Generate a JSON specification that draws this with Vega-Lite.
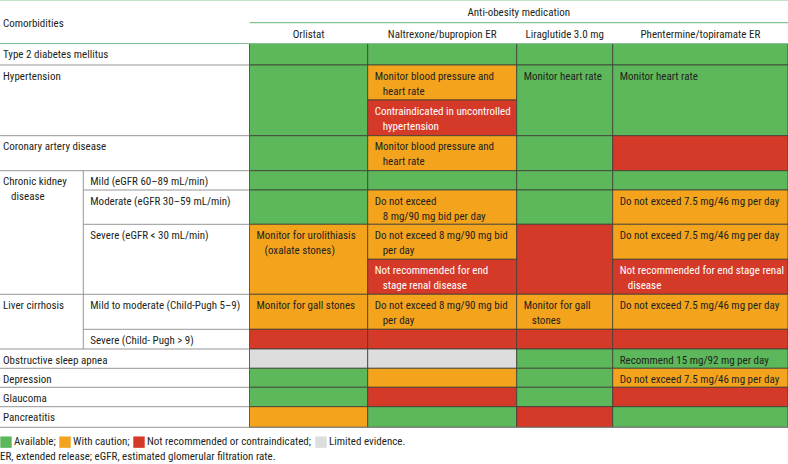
{
  "$schema": "https://vega.github.io/schema/vega-lite/v6.json",
  "width": 788,
  "height": 464,
  "autosize": {"type": "none"},
  "padding": 0,
  "background": "white",
  "datasets": {
    "cols": [
      {"col": "Comorbidity", "x0": 0, "x1": 83.3, "xm": 41.7},
      {"col": "Subgroup", "x0": 83.3, "x1": 249.5, "xm": 166.4},
      {"col": "Orlistat", "x0": 249.5, "x1": 367.7, "xm": 308.6},
      {"col": "Naltrexone/bupropion ER", "x0": 367.7, "x1": 516.7, "xm": 442.2},
      {"col": "Liraglutide 3.0 mg", "x0": 516.7, "x1": 612.7, "xm": 564.7},
      {"col": "Phentermine/topiramate ER", "x0": 612.7, "x1": 788, "xm": 700.4},
      {"col": "Anti-obesity medication", "x0": 249.5, "x1": 788, "xm": 518.75}
    ],
    "bands": [
      {"band": "hdr1", "y0": 0, "y1": 22.7},
      {"band": "hdr2", "y0": 22.7, "y1": 43.5},
      {"band": "b1", "y0": 43.5, "y1": 65},
      {"band": "b2", "y0": 65, "y1": 100},
      {"band": "b3", "y0": 100, "y1": 135.7},
      {"band": "b4", "y0": 135.7, "y1": 170.7},
      {"band": "b5", "y0": 170.7, "y1": 190},
      {"band": "b6", "y0": 190, "y1": 224.3},
      {"band": "b7", "y0": 224.3, "y1": 259.3},
      {"band": "b8", "y0": 259.3, "y1": 294.3},
      {"band": "b9", "y0": 294.3, "y1": 329.3},
      {"band": "b10", "y0": 329.3, "y1": 349},
      {"band": "b11", "y0": 349, "y1": 368.3},
      {"band": "b12", "y0": 368.3, "y1": 387.3},
      {"band": "b13", "y0": 387.3, "y1": 406.7},
      {"band": "b14", "y0": 406.7, "y1": 427.3},
      {"band": "foot", "y0": 427.3, "y1": 447},
      {"band": "note", "y0": 447, "y1": 464}
    ],
    "cells": [
      {"drug": "Orlistat", "b0": "b1", "b1": "b1", "status": "Available", "line1": "", "line2": ""},
      {"drug": "Naltrexone/bupropion ER", "b0": "b1", "b1": "b1", "status": "Available", "line1": "", "line2": ""},
      {"drug": "Liraglutide 3.0 mg", "b0": "b1", "b1": "b1", "status": "Available", "line1": "", "line2": ""},
      {"drug": "Phentermine/topiramate ER", "b0": "b1", "b1": "b1", "status": "Available", "line1": "", "line2": ""},

      {"drug": "Orlistat", "b0": "b2", "b1": "b3", "status": "Available", "line1": "", "line2": ""},
      {"drug": "Naltrexone/bupropion ER", "b0": "b2", "b1": "b2", "status": "With caution", "line1": "Monitor blood pressure and", "line2": "heart rate"},
      {"drug": "Naltrexone/bupropion ER", "b0": "b3", "b1": "b3", "status": "Not recommended", "line1": "Contraindicated in uncontrolled", "line2": "hypertension"},
      {"drug": "Liraglutide 3.0 mg", "b0": "b2", "b1": "b3", "status": "Available", "line1": "Monitor heart rate", "line2": ""},
      {"drug": "Phentermine/topiramate ER", "b0": "b2", "b1": "b3", "status": "Available", "line1": "Monitor heart rate", "line2": ""},

      {"drug": "Orlistat", "b0": "b4", "b1": "b4", "status": "Available", "line1": "", "line2": ""},
      {"drug": "Naltrexone/bupropion ER", "b0": "b4", "b1": "b4", "status": "With caution", "line1": "Monitor blood pressure and", "line2": "heart rate"},
      {"drug": "Liraglutide 3.0 mg", "b0": "b4", "b1": "b4", "status": "Available", "line1": "", "line2": ""},
      {"drug": "Phentermine/topiramate ER", "b0": "b4", "b1": "b4", "status": "Not recommended", "line1": "", "line2": ""},

      {"drug": "Orlistat", "b0": "b5", "b1": "b5", "status": "Available", "line1": "", "line2": ""},
      {"drug": "Naltrexone/bupropion ER", "b0": "b5", "b1": "b5", "status": "Available", "line1": "", "line2": ""},
      {"drug": "Liraglutide 3.0 mg", "b0": "b5", "b1": "b5", "status": "Available", "line1": "", "line2": ""},
      {"drug": "Phentermine/topiramate ER", "b0": "b5", "b1": "b5", "status": "Available", "line1": "", "line2": ""},

      {"drug": "Orlistat", "b0": "b6", "b1": "b6", "status": "Available", "line1": "", "line2": ""},
      {"drug": "Naltrexone/bupropion ER", "b0": "b6", "b1": "b6", "status": "With caution", "line1": "Do not exceed", "line2": "8 mg/90 mg bid per day"},
      {"drug": "Liraglutide 3.0 mg", "b0": "b6", "b1": "b6", "status": "Available", "line1": "", "line2": ""},
      {"drug": "Phentermine/topiramate ER", "b0": "b6", "b1": "b6", "status": "With caution", "line1": "Do not exceed 7.5 mg/46 mg per day", "line2": ""},

      {"drug": "Orlistat", "b0": "b7", "b1": "b8", "status": "With caution", "line1": "Monitor for urolithiasis", "line2": "(oxalate stones)"},
      {"drug": "Naltrexone/bupropion ER", "b0": "b7", "b1": "b7", "status": "With caution", "line1": "Do not exceed 8 mg/90 mg bid", "line2": "per day"},
      {"drug": "Naltrexone/bupropion ER", "b0": "b8", "b1": "b8", "status": "Not recommended", "line1": "Not recommended for end", "line2": "stage renal disease"},
      {"drug": "Liraglutide 3.0 mg", "b0": "b7", "b1": "b8", "status": "Not recommended", "line1": "", "line2": ""},
      {"drug": "Phentermine/topiramate ER", "b0": "b7", "b1": "b7", "status": "With caution", "line1": "Do not exceed 7.5 mg/46 mg per day", "line2": ""},
      {"drug": "Phentermine/topiramate ER", "b0": "b8", "b1": "b8", "status": "Not recommended", "line1": "Not recommended for end stage renal", "line2": "disease"},

      {"drug": "Orlistat", "b0": "b9", "b1": "b9", "status": "With caution", "line1": "Monitor for gall stones", "line2": ""},
      {"drug": "Naltrexone/bupropion ER", "b0": "b9", "b1": "b9", "status": "With caution", "line1": "Do not exceed 8 mg/90 mg bid", "line2": "per day"},
      {"drug": "Liraglutide 3.0 mg", "b0": "b9", "b1": "b9", "status": "With caution", "line1": "Monitor for gall", "line2": "stones"},
      {"drug": "Phentermine/topiramate ER", "b0": "b9", "b1": "b9", "status": "With caution", "line1": "Do not exceed 7.5 mg/46 mg per day", "line2": ""},

      {"drug": "Orlistat", "b0": "b10", "b1": "b10", "status": "Not recommended", "line1": "", "line2": ""},
      {"drug": "Naltrexone/bupropion ER", "b0": "b10", "b1": "b10", "status": "Not recommended", "line1": "", "line2": ""},
      {"drug": "Liraglutide 3.0 mg", "b0": "b10", "b1": "b10", "status": "Not recommended", "line1": "", "line2": ""},
      {"drug": "Phentermine/topiramate ER", "b0": "b10", "b1": "b10", "status": "Not recommended", "line1": "", "line2": ""},

      {"drug": "Orlistat", "b0": "b11", "b1": "b11", "status": "Limited evidence", "line1": "", "line2": ""},
      {"drug": "Naltrexone/bupropion ER", "b0": "b11", "b1": "b11", "status": "Limited evidence", "line1": "", "line2": ""},
      {"drug": "Liraglutide 3.0 mg", "b0": "b11", "b1": "b11", "status": "Available", "line1": "", "line2": ""},
      {"drug": "Phentermine/topiramate ER", "b0": "b11", "b1": "b11", "status": "Available", "line1": "Recommend 15 mg/92 mg per day", "line2": ""},

      {"drug": "Orlistat", "b0": "b12", "b1": "b12", "status": "Available", "line1": "", "line2": ""},
      {"drug": "Naltrexone/bupropion ER", "b0": "b12", "b1": "b12", "status": "With caution", "line1": "", "line2": ""},
      {"drug": "Liraglutide 3.0 mg", "b0": "b12", "b1": "b12", "status": "Available", "line1": "", "line2": ""},
      {"drug": "Phentermine/topiramate ER", "b0": "b12", "b1": "b12", "status": "With caution", "line1": "Do not exceed 7.5 mg/46 mg per day", "line2": ""},

      {"drug": "Orlistat", "b0": "b13", "b1": "b13", "status": "Available", "line1": "", "line2": ""},
      {"drug": "Naltrexone/bupropion ER", "b0": "b13", "b1": "b13", "status": "Not recommended", "line1": "", "line2": ""},
      {"drug": "Liraglutide 3.0 mg", "b0": "b13", "b1": "b13", "status": "Available", "line1": "", "line2": ""},
      {"drug": "Phentermine/topiramate ER", "b0": "b13", "b1": "b13", "status": "Not recommended", "line1": "", "line2": ""},

      {"drug": "Orlistat", "b0": "b14", "b1": "b14", "status": "With caution", "line1": "", "line2": ""},
      {"drug": "Naltrexone/bupropion ER", "b0": "b14", "b1": "b14", "status": "Available", "line1": "", "line2": ""},
      {"drug": "Liraglutide 3.0 mg", "b0": "b14", "b1": "b14", "status": "Not recommended", "line1": "", "line2": ""},
      {"drug": "Phentermine/topiramate ER", "b0": "b14", "b1": "b14", "status": "Available", "line1": "", "line2": ""}
    ],
    "mainLabels": [
      {"line1": "Type 2 diabetes mellitus", "line2": "", "col": "Comorbidity", "band": "b1"},
      {"line1": "Hypertension", "line2": "", "col": "Comorbidity", "band": "b2"},
      {"line1": "Coronary artery disease", "line2": "", "col": "Comorbidity", "band": "b4"},
      {"line1": "Chronic kidney", "line2": "disease", "col": "Comorbidity", "band": "b5"},
      {"line1": "Liver cirrhosis", "line2": "", "col": "Comorbidity", "band": "b9"},
      {"line1": "Obstructive sleep apnea", "line2": "", "col": "Comorbidity", "band": "b11"},
      {"line1": "Depression", "line2": "", "col": "Comorbidity", "band": "b12"},
      {"line1": "Glaucoma", "line2": "", "col": "Comorbidity", "band": "b13"},
      {"line1": "Pancreatitis", "line2": "", "col": "Comorbidity", "band": "b14"}
    ],
    "subLabels": [
      {"text": "Mild (eGFR 60–89 mL/min)", "col": "Subgroup", "band": "b5"},
      {"text": "Moderate (eGFR 30–59 mL/min)", "col": "Subgroup", "band": "b6"},
      {"text": "Severe (eGFR < 30 mL/min)", "col": "Subgroup", "band": "b7"},
      {"text": "Mild to moderate (Child-Pugh 5–9)", "col": "Subgroup", "band": "b9"},
      {"text": "Severe (Child- Pugh > 9)", "col": "Subgroup", "band": "b10"}
    ],
    "headers": [
      {"text": "Anti-obesity medication", "col": "Anti-obesity medication", "band": "hdr1"},
      {"text": "Orlistat", "col": "Orlistat", "band": "hdr2"},
      {"text": "Naltrexone/bupropion ER", "col": "Naltrexone/bupropion ER", "band": "hdr2"},
      {"text": "Liraglutide 3.0 mg", "col": "Liraglutide 3.0 mg", "band": "hdr2"},
      {"text": "Phentermine/topiramate ER", "col": "Phentermine/topiramate ER", "band": "hdr2"}
    ],
    "cornerHeader": [
      {"text": "Comorbidities", "col": "Comorbidity", "band": "hdr2"}
    ],
    "notes": [
      {"text": "ER, extended release; eGFR, estimated glomerular filtration rate.", "col": "Comorbidity", "band": "note"}
    ],
    "greyH": [
      {"from": "Comorbidity", "to": "Subgroup", "band": "b2"},
      {"from": "Comorbidity", "to": "Subgroup", "band": "b4"},
      {"from": "Comorbidity", "to": "Subgroup", "band": "b5"},
      {"from": "Subgroup", "to": "Subgroup", "band": "b6"},
      {"from": "Subgroup", "to": "Subgroup", "band": "b7"},
      {"from": "Comorbidity", "to": "Subgroup", "band": "b9"},
      {"from": "Subgroup", "to": "Subgroup", "band": "b10"},
      {"from": "Comorbidity", "to": "Subgroup", "band": "b11"},
      {"from": "Comorbidity", "to": "Subgroup", "band": "b12"},
      {"from": "Comorbidity", "to": "Subgroup", "band": "b13"},
      {"from": "Comorbidity", "to": "Subgroup", "band": "b14"},
      {"from": "Comorbidity", "to": "Phentermine/topiramate ER", "band": "foot"}
    ],
    "greyV": [
      {"col": "Subgroup", "b0": "b5", "b1": "b10"}
    ],
    "greenH": [
      {"from": "Comorbidity", "to": "Phentermine/topiramate ER", "band": "hdr1"},
      {"from": "Orlistat", "to": "Phentermine/topiramate ER", "band": "hdr2"},
      {"from": "Comorbidity", "to": "Phentermine/topiramate ER", "band": "b1"}
    ]
  },
  "layer": [
    {
      "data": {"name": "cells"},
      "transform": [
        {"lookup": "drug", "from": {"data": {"name": "cols"}, "key": "col", "fields": ["x0", "x1"]}},
        {"lookup": "b0", "from": {"data": {"name": "bands"}, "key": "band", "fields": ["y0"]}, "as": ["top"]},
        {"lookup": "b1", "from": {"data": {"name": "bands"}, "key": "band", "fields": ["y1"]}, "as": ["bottom"]}
      ],
      "mark": {"type": "rect", "stroke": "#3d3d35", "strokeWidth": 0.8},
      "encoding": {
        "x": {"field": "x0", "type": "quantitative", "scale": {"domain": [0, 788], "nice": false, "zero": false}, "axis": null},
        "x2": {"field": "x1"},
        "y": {"field": "top", "type": "quantitative", "scale": {"domain": [0, 464], "nice": false, "zero": false, "reverse": true}, "axis": null},
        "y2": {"field": "bottom"},
        "color": {
          "field": "status",
          "type": "nominal",
          "scale": {
            "domain": ["Available", "With caution", "Not recommended", "Limited evidence"],
            "range": ["#5cb85a", "#f4a41c", "#d53a29", "#dddddd"]
          },
          "legend": {
            "title": null,
            "orient": "none",
            "legendX": 0,
            "legendY": 436,
            "direction": "horizontal",
            "symbolType": "square",
            "symbolSize": 130,
            "symbolStrokeWidth": 0,
            "symbolOpacity": 1,
            "labelFont": "Roboto Condensed, Lato, sans-serif",
            "labelFontSize": 11,
            "labelColor": "#231f20",
            "labelOffset": 2,
            "columnPadding": 3,
            "padding": 0,
            "labelLimit": 400,
            "labelExpr": "datum.label == 'Not recommended' ? 'Not recommended or contraindicated;' : datum.label == 'Limited evidence' ? 'Limited evidence.' : datum.label + ';'"
          }
        }
      }
    },
    {
      "data": {"name": "greyH"},
      "transform": [
        {"lookup": "from", "from": {"data": {"name": "cols"}, "key": "col", "fields": ["x0"]}, "as": ["xa"]},
        {"lookup": "to", "from": {"data": {"name": "cols"}, "key": "col", "fields": ["x1"]}, "as": ["xb"]},
        {"lookup": "band", "from": {"data": {"name": "bands"}, "key": "band", "fields": ["y0"]}, "as": ["ya"]}
      ],
      "mark": {"type": "rule", "stroke": "#8a8a8a", "strokeWidth": 0.9},
      "encoding": {
        "x": {"field": "xa", "type": "quantitative", "scale": {"domain": [0, 788], "nice": false, "zero": false}, "axis": null},
        "x2": {"field": "xb"},
        "y": {"field": "ya", "type": "quantitative", "scale": {"domain": [0, 464], "nice": false, "zero": false, "reverse": true}, "axis": null}
      }
    },
    {
      "data": {"name": "greyV"},
      "transform": [
        {"lookup": "col", "from": {"data": {"name": "cols"}, "key": "col", "fields": ["x0"]}, "as": ["xa"]},
        {"lookup": "b0", "from": {"data": {"name": "bands"}, "key": "band", "fields": ["y0"]}, "as": ["ya"]},
        {"lookup": "b1", "from": {"data": {"name": "bands"}, "key": "band", "fields": ["y1"]}, "as": ["yb"]}
      ],
      "mark": {"type": "rule", "stroke": "#8a8a8a", "strokeWidth": 0.9},
      "encoding": {
        "x": {"field": "xa", "type": "quantitative", "scale": {"domain": [0, 788], "nice": false, "zero": false}, "axis": null},
        "y": {"field": "ya", "type": "quantitative", "scale": {"domain": [0, 464], "nice": false, "zero": false, "reverse": true}, "axis": null},
        "y2": {"field": "yb"}
      }
    },
    {
      "data": {"name": "greenH"},
      "transform": [
        {"lookup": "from", "from": {"data": {"name": "cols"}, "key": "col", "fields": ["x0"]}, "as": ["xa"]},
        {"lookup": "to", "from": {"data": {"name": "cols"}, "key": "col", "fields": ["x1"]}, "as": ["xb"]},
        {"lookup": "band", "from": {"data": {"name": "bands"}, "key": "band", "fields": ["y0"]}, "as": ["ya"]}
      ],
      "mark": {"type": "rule", "stroke": "#84c494", "strokeWidth": 1.2},
      "encoding": {
        "x": {"field": "xa", "type": "quantitative", "scale": {"domain": [0, 788], "nice": false, "zero": false}, "axis": null},
        "x2": {"field": "xb"},
        "y": {"field": "ya", "type": "quantitative", "scale": {"domain": [0, 464], "nice": false, "zero": false, "reverse": true}, "axis": null}
      }
    },
    {
      "data": {"name": "cells"},
      "transform": [
        {"filter": "datum.line1 != ''"},
        {"lookup": "drug", "from": {"data": {"name": "cols"}, "key": "col", "fields": ["x0"]}},
        {"lookup": "b0", "from": {"data": {"name": "bands"}, "key": "band", "fields": ["y0"]}, "as": ["top"]}
      ],
      "mark": {"type": "text", "align": "left", "baseline": "alphabetic", "dx": 7, "dy": 14.5, "fontSize": 11},
      "encoding": {
        "x": {"field": "x0", "type": "quantitative", "scale": {"domain": [0, 788], "nice": false, "zero": false}, "axis": null},
        "y": {"field": "top", "type": "quantitative", "scale": {"domain": [0, 464], "nice": false, "zero": false, "reverse": true}, "axis": null},
        "text": {"field": "line1"},
        "color": {"condition": {"test": "datum.status == 'Not recommended'", "value": "#ffffff"}, "value": "#231f20"}
      }
    },
    {
      "data": {"name": "cells"},
      "transform": [
        {"filter": "datum.line2 != ''"},
        {"lookup": "drug", "from": {"data": {"name": "cols"}, "key": "col", "fields": ["x0"]}},
        {"lookup": "b0", "from": {"data": {"name": "bands"}, "key": "band", "fields": ["y0"]}, "as": ["top"]}
      ],
      "mark": {"type": "text", "align": "left", "baseline": "alphabetic", "dx": 15, "dy": 29.5, "fontSize": 11},
      "encoding": {
        "x": {"field": "x0", "type": "quantitative", "scale": {"domain": [0, 788], "nice": false, "zero": false}, "axis": null},
        "y": {"field": "top", "type": "quantitative", "scale": {"domain": [0, 464], "nice": false, "zero": false, "reverse": true}, "axis": null},
        "text": {"field": "line2"},
        "color": {"condition": {"test": "datum.status == 'Not recommended'", "value": "#ffffff"}, "value": "#231f20"}
      }
    },
    {
      "data": {"name": "mainLabels"},
      "transform": [
        {"lookup": "col", "from": {"data": {"name": "cols"}, "key": "col", "fields": ["x0"]}},
        {"lookup": "band", "from": {"data": {"name": "bands"}, "key": "band", "fields": ["y0"]}, "as": ["top"]}
      ],
      "mark": {"type": "text", "align": "left", "baseline": "alphabetic", "dx": 3, "dy": 14.5, "fontSize": 11, "color": "#231f20"},
      "encoding": {
        "x": {"field": "x0", "type": "quantitative", "scale": {"domain": [0, 788], "nice": false, "zero": false}, "axis": null},
        "y": {"field": "top", "type": "quantitative", "scale": {"domain": [0, 464], "nice": false, "zero": false, "reverse": true}, "axis": null},
        "text": {"field": "line1"}
      }
    },
    {
      "data": {"name": "mainLabels"},
      "transform": [
        {"filter": "datum.line2 != ''"},
        {"lookup": "col", "from": {"data": {"name": "cols"}, "key": "col", "fields": ["x0"]}},
        {"lookup": "band", "from": {"data": {"name": "bands"}, "key": "band", "fields": ["y0"]}, "as": ["top"]}
      ],
      "mark": {"type": "text", "align": "left", "baseline": "alphabetic", "dx": 11, "dy": 29.5, "fontSize": 11, "color": "#231f20"},
      "encoding": {
        "x": {"field": "x0", "type": "quantitative", "scale": {"domain": [0, 788], "nice": false, "zero": false}, "axis": null},
        "y": {"field": "top", "type": "quantitative", "scale": {"domain": [0, 464], "nice": false, "zero": false, "reverse": true}, "axis": null},
        "text": {"field": "line2"}
      }
    },
    {
      "data": {"name": "subLabels"},
      "transform": [
        {"lookup": "col", "from": {"data": {"name": "cols"}, "key": "col", "fields": ["x0"]}},
        {"lookup": "band", "from": {"data": {"name": "bands"}, "key": "band", "fields": ["y0"]}, "as": ["top"]}
      ],
      "mark": {"type": "text", "align": "left", "baseline": "alphabetic", "dx": 7, "dy": 14.5, "fontSize": 11, "color": "#231f20"},
      "encoding": {
        "x": {"field": "x0", "type": "quantitative", "scale": {"domain": [0, 788], "nice": false, "zero": false}, "axis": null},
        "y": {"field": "top", "type": "quantitative", "scale": {"domain": [0, 464], "nice": false, "zero": false, "reverse": true}, "axis": null},
        "text": {"field": "text"}
      }
    },
    {
      "data": {"name": "headers"},
      "transform": [
        {"lookup": "col", "from": {"data": {"name": "cols"}, "key": "col", "fields": ["xm"]}},
        {"lookup": "band", "from": {"data": {"name": "bands"}, "key": "band", "fields": ["y0"]}, "as": ["top"]}
      ],
      "mark": {"type": "text", "align": "center", "baseline": "alphabetic", "dy": 15.5, "fontSize": 11, "color": "#231f20"},
      "encoding": {
        "x": {"field": "xm", "type": "quantitative", "scale": {"domain": [0, 788], "nice": false, "zero": false}, "axis": null},
        "y": {"field": "top", "type": "quantitative", "scale": {"domain": [0, 464], "nice": false, "zero": false, "reverse": true}, "axis": null},
        "text": {"field": "text"}
      }
    },
    {
      "data": {"name": "cornerHeader"},
      "transform": [
        {"lookup": "col", "from": {"data": {"name": "cols"}, "key": "col", "fields": ["x0"]}},
        {"lookup": "band", "from": {"data": {"name": "bands"}, "key": "band", "fields": ["y0"]}, "as": ["top"]}
      ],
      "mark": {"type": "text", "align": "left", "baseline": "alphabetic", "dx": 3, "dy": 4, "fontSize": 11, "color": "#231f20"},
      "encoding": {
        "x": {"field": "x0", "type": "quantitative", "scale": {"domain": [0, 788], "nice": false, "zero": false}, "axis": null},
        "y": {"field": "top", "type": "quantitative", "scale": {"domain": [0, 464], "nice": false, "zero": false, "reverse": true}, "axis": null},
        "text": {"field": "text"}
      }
    },
    {
      "data": {"name": "notes"},
      "transform": [
        {"lookup": "col", "from": {"data": {"name": "cols"}, "key": "col", "fields": ["x0"]}},
        {"lookup": "band", "from": {"data": {"name": "bands"}, "key": "band", "fields": ["y0"]}, "as": ["top"]}
      ],
      "mark": {"type": "text", "align": "left", "baseline": "alphabetic", "dx": 0, "dy": 13, "fontSize": 11, "color": "#231f20"},
      "encoding": {
        "x": {"field": "x0", "type": "quantitative", "scale": {"domain": [0, 788], "nice": false, "zero": false}, "axis": null},
        "y": {"field": "top", "type": "quantitative", "scale": {"domain": [0, 464], "nice": false, "zero": false, "reverse": true}, "axis": null},
        "text": {"field": "text"}
      }
    }
  ],
  "config": {
    "view": {"stroke": null},
    "text": {"font": "Roboto Condensed, Lato, sans-serif"}
  }
}
